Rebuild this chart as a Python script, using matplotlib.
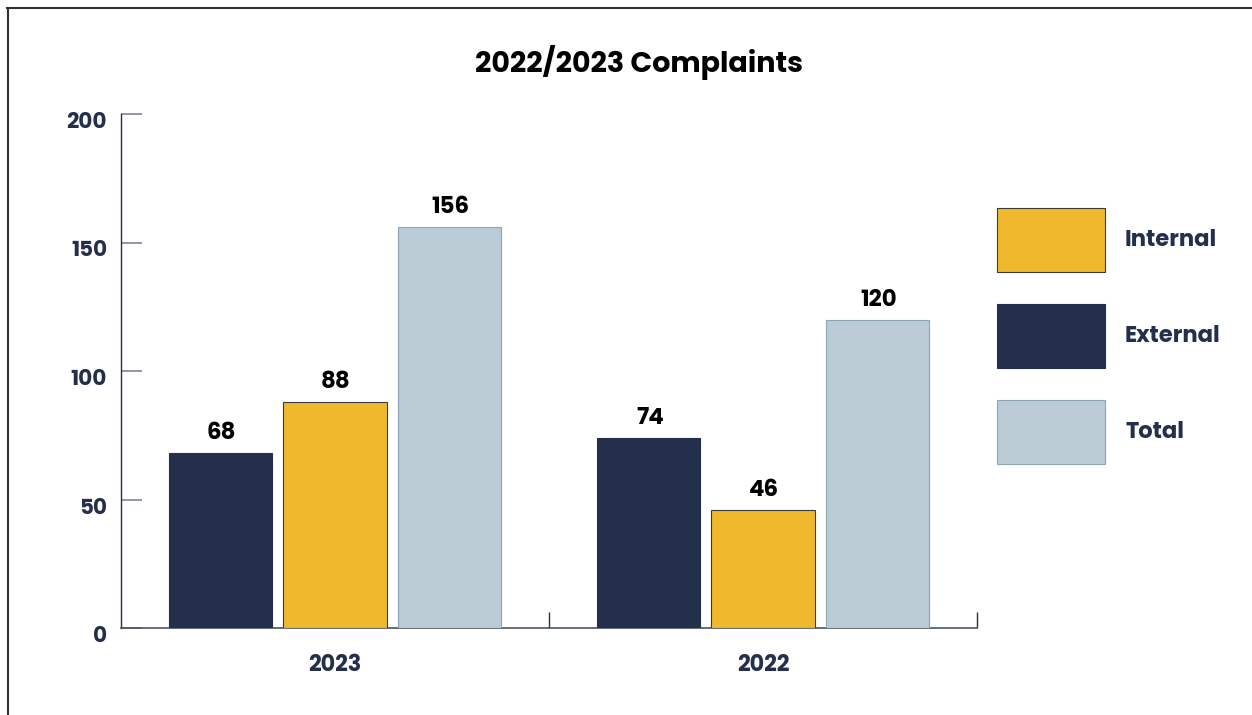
import matplotlib
matplotlib.use("Agg")
import matplotlib.pyplot as plt
import matplotlib.transforms as mtransforms
import numpy as np
from matplotlib.lines import Line2D

categories = ["2023", "2022"]
series_names = ["External", "Internal", "Total"]
external = [68, 74]
internal = [88, 46]
total = [156, 120]
yticks = [0, 50, 100, 150, 200]
title = "2022/2023 Complaints"

navy = "#232F4B"
yellow = "#F0B82D"
lightblue = "#BBCCD6"

plt.rcParams['font.family'] = ['Poppins', 'Lato', 'DejaVu Sans']
fig = plt.figure(figsize=(12.52, 7.15), dpi=100)
W, H = 1252, 715
ax = fig.add_axes([121 / W, 1 - 628 / H, (977 - 121) / W, (628 - 114) / H])

x = np.arange(len(categories))
bw = 0.241
step = 0.267
series = [external, internal, total]
colors = [navy, yellow, lightblue]
edges = [navy, "#3a3a3a", "#8DA6B6"]
for i, (vals, c, ec, name) in enumerate(zip(series, colors, edges, series_names)):
    bars = ax.bar(x + (i - 1) * step, vals, width=bw, color=c, edgecolor=ec,
                  linewidth=0.8, label=name, zorder=3)
    for b, v in zip(bars, vals):
        ax.annotate(str(v), (b.get_x() + b.get_width() / 2, v), xytext=(0.8, 14),
                    textcoords="offset points", ha="center", va="center",
                    fontsize=16.5, fontweight="bold", color="black")

ax.set_xlim(-0.5, 1.5)
ax.set_ylim(0, 200)
ax.set_yticks(yticks)
ax.set_xticks(x)
ax.set_xticklabels(categories)
ax.set_xticks([0.5, 1.5], minor=True)
ax.tick_params(axis="x", which="major", length=0, pad=19, labelsize=16, labelcolor=navy)
ax.tick_params(axis="x", which="minor", direction="in", length=11.5, width=1, color=navy)
ax.tick_params(axis="y", direction="in", length=15, width=1.2, color="#7f8596",
               pad=10, labelsize=15.5, labelcolor=navy)
shift = mtransforms.ScaledTranslation(0, -6 / 100, fig.dpi_scale_trans)
for lbl in ax.get_yticklabels():
    lbl.set_transform(lbl.get_transform() + shift)
for lbl in ax.get_xticklabels() + ax.get_yticklabels():
    lbl.set_fontweight("bold")
for s in ["top", "right"]:
    ax.spines[s].set_visible(False)
ax.spines["left"].set_color(navy)
ax.spines["bottom"].set_color("#4a5468")
ax.spines["left"].set_linewidth(1)
ax.spines["bottom"].set_linewidth(1.2)

fig.text(639 / W, 1 - 62 / H, title, ha="center", va="center", fontsize=20.6,
         fontweight="bold", color="black")

handles, labels = ax.get_legend_handles_labels()
order = [1, 0, 2]
fs = 16.3
fpx = fs * 100 / 72
hh = (64 / fpx - 0.245) / 0.65
leg = ax.legend([handles[i] for i in order], [labels[i] for i in order],
                loc="upper left", bbox_to_anchor=(997 / W, 1 - 208 / H),
                bbox_transform=fig.transFigure, frameon=False, borderpad=0,
                borderaxespad=0, handlelength=108 / fpx, handleheight=hh,
                labelspacing=32 / fpx, handletextpad=20 / fpx,
                prop={"size": fs, "weight": "bold"})
for t in leg.get_texts():
    t.set_color(navy)

fig.add_artist(Line2D([7 / W, 1], [1 - 8 / H, 1 - 8 / H], transform=fig.transFigure,
                      color="#333333", linewidth=1.5))
fig.add_artist(Line2D([8 / W, 8 / W], [0, 1 - 8 / H], transform=fig.transFigure,
                      color="#333333", linewidth=1.5))

fig.savefig("out.png", dpi=100)
